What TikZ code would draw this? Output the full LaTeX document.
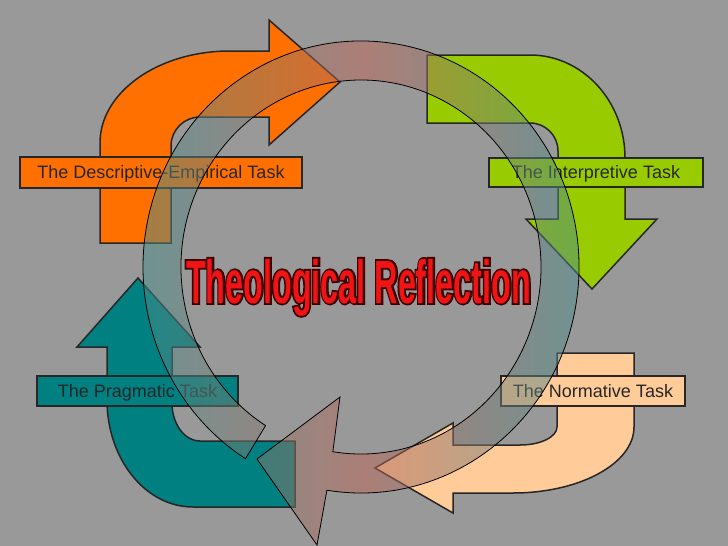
\documentclass[tikz,border=0pt]{standalone}
\usepackage{fontspec}
\setmainfont{Liberation Sans}
\newfontfamily\titlefont[FakeStretch=0.53]{Liberation Sans}
\usepackage{tikz}

\definecolor{bggray}{HTML}{999999}
\definecolor{descorange}{HTML}{FF7000}
\definecolor{interpgreen}{HTML}{99CC00}
\definecolor{normpeach}{HTML}{FFCC99}
\definecolor{pragteal}{HTML}{008080}
\definecolor{ringpink}{HTML}{BE6656}
\definecolor{ringteal}{HTML}{408F8F}
\definecolor{titlered}{HTML}{F01414}

% outlined letters: a dark stroked layer under the red fill
\newcommand{\rimtext}[1]{\rlap{\special{pdf:literal direct 1 Tr 3.6 w 0.23 0 0 RG}#1\special{pdf:literal direct 0 Tr}}#1}

\begin{document}
\begin{tikzpicture}[x=1pt, y=-1pt,
  task/.style={draw=black!85, line width=1.5pt},
  tasklabel/.style={draw=black!85, line width=1.6pt, text=black!85, inner sep=0pt,
    text height=12.9pt, text depth=0pt, font=\fontsize{18}{20}\selectfont},
  ring/.style={draw=black, line width=0.8pt, left color=ringteal, right color=ringteal,
    middle color=ringpink, fill opacity=0.5},
  titletext/.style={anchor=base, inner sep=0pt, text=titlered,
    font=\titlefont\bfseries\fontsize{61}{61}\selectfont}]
  % the page, pixel units, y going down
  \useasboundingbox[fill=bggray] (0,0) rectangle (728,546);

  % the four bent arrows
  \path[task, fill=descorange] (100,243) -- (100,143)
    arc[start angle=180, end angle=270, x radius=130, y radius=92]
    -- (269,51) -- (269,20) -- (340,82) -- (269,145) -- (269,117) -- (200,117)
    arc[start angle=270, end angle=180, radius=29] -- (171,243) -- cycle;
  \path[task, fill=interpgreen] (427,55) -- (530,55)
    arc[start angle=270, end angle=360, x radius=95, y radius=103]
    -- (625,219) -- (657,219) -- (592,289) -- (526,219) -- (558,219) -- (558,151)
    arc[start angle=0, end angle=-90, radius=28] -- (427,123) -- cycle;
  \path[task, fill=normpeach] (557,353) -- (634,353) -- (634,427)
    arc[start angle=0, end angle=90, x radius=121, y radius=66]
    -- (453,493) -- (453,513) -- (375,468) -- (453,423) -- (453,445) -- (520,445)
    arc[start angle=90, end angle=0, x radius=37, y radius=18] -- cycle;
  \path[task, fill=pragteal] (138,278) -- (200,347) -- (172,347) -- (172,403)
    arc[start angle=180, end angle=90, x radius=28, y radius=38]
    -- (295,441) -- (295,507) -- (193,507)
    arc[start angle=90, end angle=180, x radius=86, y radius=107]
    -- (107,347) -- (77,347) -- cycle;

  % labels on the arrows
  \foreach \name/\cx/\cy/\w/\h/\col/\txt in {
      desc/161/172.5/282/31/descorange/The Descriptive-Empirical Task,
      interp/596/172.5/214/29/interpgreen/The Interpretive Task,
      norm/593/391/184/30/normpeach/The Normative Task,
      prag/137.5/391/201/30/pragteal/The Pragmatic Task}{
    \node[tasklabel, fill=\col, minimum width=\w pt, minimum height=\h pt] (\name) at (\cx,\cy) {\txt};
  }

  % the see-through circular arrow, centre (361,267)
  \path[ring] (265.6,425.6)
    arc[start angle=122, end angle=459, x radius=180, y radius=187]
    -- (340,397) -- (257,459) -- (317,545) -- (326.9,490.2)
    arc[start angle=459, end angle=122, x radius=218, y radius=226] -- cycle;

  % title
  \node[titletext] (title) at (358.5,303) {\rimtext{Theological Reflection}};
\end{tikzpicture}
\end{document}
